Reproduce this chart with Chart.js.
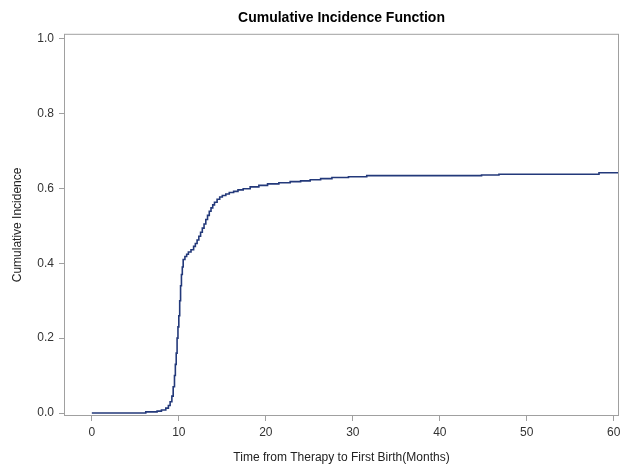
<!DOCTYPE html>
<html>
<head>
<meta charset="utf-8">
<script src="https://cdn.jsdelivr.net/npm/chart.js@4"></script>
<style>
  html, body { margin: 0; padding: 0; background: #fff; }
  #wrap { width: 620px; height: 465px; }
</style>
</head>
<body>
<div id="wrap"><canvas id="canvas-chart" width="620" height="465"></canvas></div>
<script>
// months since therapy
const times = [0, 6.2, 7.5, 8.0, 8.5, 8.8, 9.0, 9.2, 9.35, 9.5, 9.6, 9.7, 9.8, 9.9, 10.0, 10.1, 10.2, 10.3, 10.4, 10.5,
  10.7, 10.9, 11.1, 11.4, 11.7, 11.9, 12.1, 12.3, 12.5, 12.7, 12.9, 13.1, 13.3, 13.5, 13.7, 13.9, 14.1, 14.4, 14.7,
  15.0, 15.4, 15.8, 16.3, 16.8, 17.4, 18.2, 19.2, 20.2, 21.5, 22.8,
  24.0, 25.1, 26.3, 27.6, 29.5, 31.6, 44.8, 46.8, 58.3, 60.6];
// cumulative incidence at each time
const incidence = [0, 0.003, 0.005, 0.008, 0.013, 0.02, 0.03, 0.045, 0.07, 0.1, 0.13, 0.16, 0.2, 0.23, 0.26, 0.3, 0.34, 0.37, 0.39, 0.41,
  0.418, 0.424, 0.43, 0.436, 0.445, 0.453, 0.462, 0.472, 0.483, 0.494, 0.505, 0.517, 0.528, 0.539, 0.548, 0.556, 0.563, 0.571, 0.577,
  0.581, 0.585, 0.589, 0.592, 0.596, 0.599, 0.604, 0.608, 0.612, 0.615, 0.618,
  0.62, 0.623, 0.626, 0.629, 0.631, 0.634, 0.636, 0.638, 0.642, 0.642];
const xTicks = [0, 10, 20, 30, 40, 50, 60];
const yTicks = [0, 0.2, 0.4, 0.6, 0.8, 1.0];

const frame = {
  id: 'frame',
  afterDraw(chart) {
    const a = chart.chartArea;
    const c = chart.ctx;
    c.save();
    c.strokeStyle = '#a0a0a0';
    c.lineWidth = 1;
    c.strokeRect(a.left + 0.5, a.top + 0.5, a.right - a.left - 1, a.bottom - a.top - 1);
    c.restore();
  }
};

const ctx = document.getElementById('canvas-chart');

new Chart(ctx, {
  type: 'line',
  data: {
    datasets: [{
      data: times.map((t, i) => ({ x: t, y: incidence[i] })),
      borderColor: '#23397a',
      borderWidth: 1.6,
      pointRadius: 0,
      stepped: 'before',
      fill: false
    }]
  },
  options: {
    responsive: false,
    animation: false,
    layout: { padding: { left: 0, right: 1, top: 0, bottom: 0 } },
    scales: {
      x: {
        type: 'linear',
        min: -3.2,
        max: 60.6,
        afterBuildTicks: s => { s.ticks = xTicks.map(v => ({ value: v })); },
        afterFit: s => { s.height = 49; s.paddingLeft = 0; s.paddingRight = 0; },
        grid: { drawOnChartArea: false, drawTicks: true, tickLength: 5, color: '#a0a0a0' },
        border: { display: false },
        ticks: { color: '#333', font: { family: 'Liberation Sans', size: 12 }, padding: 4, maxRotation: 0 },
        title: {
          display: true,
          text: 'Time from Therapy to First Birth(Months)',
          color: '#222',
          font: { family: 'Liberation Sans', size: 12 },
          padding: { top: 3, bottom: 0 }
        }
      },
      y: {
        min: -0.008,
        max: 1.013,
        afterBuildTicks: s => { s.ticks = yTicks.map(v => ({ value: v })); },
        afterFit: s => { s.width = 64; s.paddingTop = 0; s.paddingBottom = 0; },
        grid: { drawOnChartArea: false, drawTicks: true, tickLength: 5, color: '#a0a0a0' },
        border: { display: false },
        ticks: {
          color: '#333',
          font: { family: 'Liberation Sans', size: 12 },
          padding: 5,
          callback: v => v.toFixed(1)
        },
        title: {
          display: true,
          text: 'Cumulative Incidence',
          color: '#222',
          font: { family: 'Liberation Sans', size: 12 },
          padding: { top: 10, bottom: 0 }
        }
      }
    },
    plugins: {
      legend: { display: false },
      tooltip: { enabled: false },
      title: {
        display: true,
        text: 'Cumulative Incidence Function',
        fullSize: false,
        color: '#000',
        font: { family: 'Liberation Sans', size: 14, weight: 'bold' },
        padding: { top: 10, bottom: 7 }
      }
    }
  },
  plugins: [frame]
});
</script>
</body>
</html>
